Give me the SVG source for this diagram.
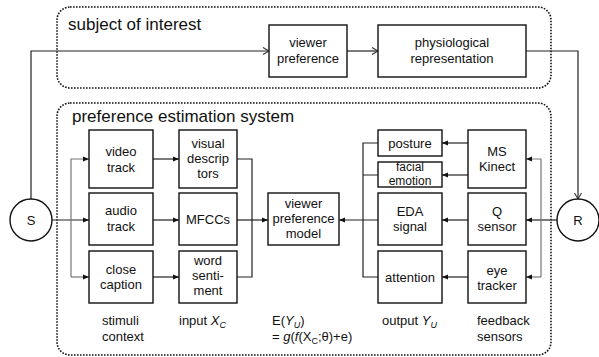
<svg xmlns="http://www.w3.org/2000/svg" width="599" height="357" viewBox="0 0 599 357">
<style>
text{font-family:"Liberation Sans",Arial,sans-serif;fill:#111;}
.t{font-size:13px;text-anchor:middle;}
.l{font-size:13px;}
.h{font-size:17px;}
.box{fill:#fff;stroke:#111;stroke-width:1.4;}
.grp{fill:none;stroke:#111;stroke-width:1.6;stroke-dasharray:1.6 1.4;}
.c{fill:none;stroke:#222;stroke-width:1.2;}
.g{fill:none;stroke:#777;stroke-width:1.2;}
.circ{fill:#fff;stroke:#111;stroke-width:1.4;}
</style>
<defs>
<marker id="a" markerUnits="userSpaceOnUse" markerWidth="8" markerHeight="8" refX="6" refY="4" orient="auto"><path d="M0,1.5 L6,4 L0,6.5 Z" fill="#111"/></marker>
<marker id="o" markerUnits="userSpaceOnUse" markerWidth="10" markerHeight="10" refX="7" refY="5" orient="auto"><path d="M1,1.5 L7,5 L1,8.5" fill="none" stroke="#333" stroke-width="1.1"/></marker>
</defs>
<rect width="599" height="357" fill="#fff"/>
<g id="subject">
<rect class="grp" x="57" y="7" width="494" height="81" rx="13"/>
<text class="h" x="68" y="30">subject of interest</text>
</g>
<g id="system">
<rect class="grp" x="57" y="103" width="494" height="252" rx="13"/>
<text class="h" x="72" y="122">preference estimation system</text>
</g>
<g id="connectors">
<path class="c" d="M31,199 V51 H269" marker-end="url(#o)"/>
<path class="c" d="M347,51 H378" marker-end="url(#o)"/>
<path class="c" d="M526,51 H578 V199" marker-end="url(#o)"/>
<path class="c" d="M52,220 H89" marker-end="url(#a)"/>
<path class="g" d="M71,277 V159 H89" marker-end="url(#a)"/>
<path class="g" d="M71,277 H89" marker-end="url(#a)"/>
<path class="c" d="M153,159 H179" marker-end="url(#a)"/>
<path class="c" d="M153,220 H179" marker-end="url(#a)"/>
<path class="c" d="M153,277 H179" marker-end="url(#a)"/>
<path class="c" d="M237,159 H252 V277 H237"/>
<path class="c" d="M237,220 H268" marker-end="url(#a)"/>
<path class="c" d="M378,220 H339" marker-end="url(#a)"/>
<path class="c" d="M378,143 H363 V277 H378 M363,175 H378"/>
<path class="c" d="M468,143 H442" marker-end="url(#a)"/>
<path class="c" d="M468,175 H442" marker-end="url(#a)"/>
<path class="c" d="M468,220 H442" marker-end="url(#a)"/>
<path class="c" d="M468,277 H442" marker-end="url(#a)"/>
<path class="c" d="M557,220 H526" marker-end="url(#a)"/>
<path class="g" d="M541,277 V159 H526" marker-end="url(#a)"/>
<path class="g" d="M541,277 H526" marker-end="url(#a)"/>
</g>
<g id="viewer-preference"><rect class="box" x="269" y="25" width="78" height="52"/><text class="t" x="308" y="47">viewer</text><text class="t" x="308" y="63">preference</text></g>
<g id="physiological"><rect class="box" x="378" y="25" width="148" height="52"/><text class="t" x="452" y="47">physiological</text><text class="t" x="452" y="63">representation</text></g>
<g id="S"><circle class="circ" cx="31" cy="220" r="21"/><text class="t" x="31" y="225">S</text></g>
<g id="R"><circle class="circ" cx="578" cy="220" r="21"/><text class="t" x="578" y="225">R</text></g>
<g id="video"><rect class="box" x="89" y="130" width="64" height="58"/><text class="t" x="121" y="156">video</text><text class="t" x="121" y="172">track</text></g>
<g id="audio"><rect class="box" x="89" y="193" width="64" height="52"/><text class="t" x="121" y="215">audio</text><text class="t" x="121" y="231">track</text></g>
<g id="caption"><rect class="box" x="89" y="251" width="64" height="52"/><text class="t" x="121" y="274">close</text><text class="t" x="121" y="289">caption</text></g>
<g id="visual"><rect class="box" x="179" y="130" width="58" height="58"/><text class="t" x="208" y="148">visual</text><text class="t" x="208" y="163">descrip</text><text class="t" x="208" y="178">tors</text></g>
<g id="mfcc"><rect class="box" x="179" y="193" width="58" height="52"/><text class="t" x="208" y="224">MFCCs</text></g>
<g id="word"><rect class="box" x="179" y="251" width="58" height="52"/><text class="t" x="208" y="265">word</text><text class="t" x="208" y="280">senti-</text><text class="t" x="208" y="295">ment</text></g>
<g id="model"><rect class="box" x="268" y="193" width="71" height="52"/><text class="t" x="303.5" y="208">viewer</text><text class="t" x="303.5" y="223">preference</text><text class="t" x="303.5" y="238">model</text></g>
<g id="posture"><rect class="box" x="378" y="130" width="64" height="26"/><text class="t" x="410" y="148">posture</text></g>
<g id="facial"><rect class="box" x="378" y="162" width="64" height="25"/><text class="t" x="410" y="171" style="font-size:12px">facial</text><text class="t" x="410" y="184.5" style="font-size:12px">emotion</text></g>
<g id="eda"><rect class="box" x="378" y="193" width="64" height="52"/><text class="t" x="410" y="216">EDA</text><text class="t" x="410" y="231">signal</text></g>
<g id="attention"><rect class="box" x="378" y="251" width="64" height="52"/><text class="t" x="410" y="282">attention</text></g>
<g id="kinect"><rect class="box" x="468" y="130" width="58" height="58"/><text class="t" x="497" y="156">MS</text><text class="t" x="497" y="171">Kinect</text></g>
<g id="qsensor"><rect class="box" x="468" y="193" width="58" height="52"/><text class="t" x="497" y="216">Q</text><text class="t" x="497" y="231">sensor</text></g>
<g id="eyetracker"><rect class="box" x="468" y="251" width="58" height="52"/><text class="t" x="497" y="275">eye</text><text class="t" x="497" y="290">tracker</text></g>
<g id="labels">
<text class="l" x="102" y="325">stimuli</text>
<text class="l" x="102" y="341">context</text>
<text class="l" x="179" y="325">input <tspan font-style="italic">X</tspan><tspan font-style="italic" font-size="9" dy="3">C</tspan></text>
<text class="l" x="272" y="325">E(<tspan font-style="italic">Y</tspan><tspan font-style="italic" font-size="9" dy="3">U</tspan><tspan dy="-3">)</tspan></text>
<text class="l" x="272" y="341">= <tspan font-style="italic">g</tspan>(<tspan font-style="italic">f</tspan>(X<tspan font-size="9" dy="3">C</tspan><tspan dy="-3">;θ)+e)</tspan></text>
<text class="l" x="382" y="325">output <tspan font-style="italic">Y</tspan><tspan font-style="italic" font-size="9" dy="3">U</tspan></text>
<text class="l" x="477" y="325">feedback</text>
<text class="l" x="477" y="341">sensors</text>
</g>
</svg>
